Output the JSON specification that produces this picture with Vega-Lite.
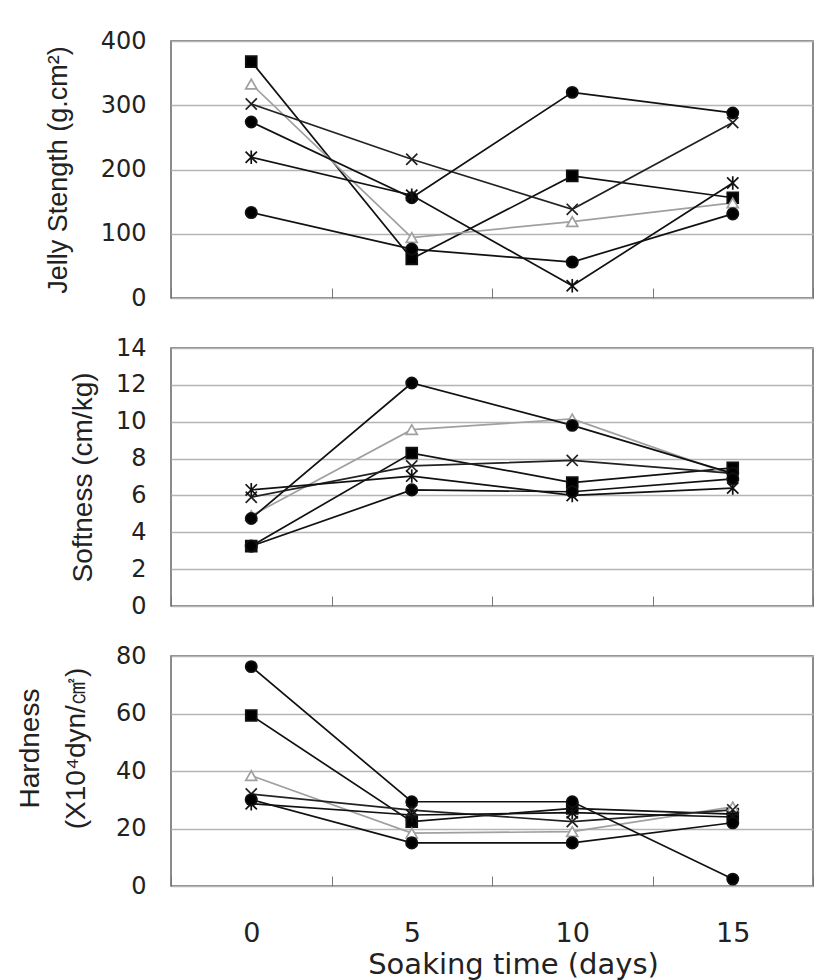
{
  "$schema": "https://vega.github.io/schema/vega-lite/v6.json",
  "background": "white",
  "padding": {"left": 15, "top": 28, "right": 5, "bottom": 5},
  "spacing": 50,
  "bounds": "flush",
  "config": {
    "view": {"stroke": "#666", "strokeWidth": 1.5},
    "axis": {"domain": false, "gridColor": "#b5b5b5", "gridWidth": 1.5, "tickColor": "#777"},
    "font": "Liberation Sans"
  },
  "datasets": {
    "rows": [
      {"panel": "J", "series": "square", "day": 0, "value": 368},
      {"panel": "J", "series": "square", "day": 5, "value": 61},
      {"panel": "J", "series": "square", "day": 10, "value": 190},
      {"panel": "J", "series": "square", "day": 15, "value": 156},
      {"panel": "J", "series": "triangle", "day": 0, "value": 333},
      {"panel": "J", "series": "triangle", "day": 5, "value": 94},
      {"panel": "J", "series": "triangle", "day": 10, "value": 119},
      {"panel": "J", "series": "triangle", "day": 15, "value": 148},
      {"panel": "J", "series": "xcross", "day": 0, "value": 302},
      {"panel": "J", "series": "xcross", "day": 5, "value": 216},
      {"panel": "J", "series": "xcross", "day": 10, "value": 138},
      {"panel": "J", "series": "xcross", "day": 15, "value": 273},
      {"panel": "J", "series": "circle", "day": 0, "value": 274},
      {"panel": "J", "series": "circle", "day": 5, "value": 156},
      {"panel": "J", "series": "circle", "day": 10, "value": 320},
      {"panel": "J", "series": "circle", "day": 15, "value": 288},
      {"panel": "J", "series": "star", "day": 0, "value": 219},
      {"panel": "J", "series": "star", "day": 5, "value": 160},
      {"panel": "J", "series": "star", "day": 10, "value": 19},
      {"panel": "J", "series": "star", "day": 15, "value": 179},
      {"panel": "J", "series": "dot", "day": 0, "value": 133},
      {"panel": "J", "series": "dot", "day": 5, "value": 76},
      {"panel": "J", "series": "dot", "day": 10, "value": 56},
      {"panel": "J", "series": "dot", "day": 15, "value": 131},

      {"panel": "S", "series": "square", "day": 0, "value": 3.25},
      {"panel": "S", "series": "square", "day": 5, "value": 8.3},
      {"panel": "S", "series": "square", "day": 10, "value": 6.7},
      {"panel": "S", "series": "square", "day": 15, "value": 7.5},
      {"panel": "S", "series": "triangle", "day": 0, "value": 4.9},
      {"panel": "S", "series": "triangle", "day": 5, "value": 9.57},
      {"panel": "S", "series": "triangle", "day": 10, "value": 10.15},
      {"panel": "S", "series": "triangle", "day": 15, "value": 7.1},
      {"panel": "S", "series": "xcross", "day": 0, "value": 5.9},
      {"panel": "S", "series": "xcross", "day": 5, "value": 7.6},
      {"panel": "S", "series": "xcross", "day": 10, "value": 7.9},
      {"panel": "S", "series": "xcross", "day": 15, "value": 7.2},
      {"panel": "S", "series": "circle", "day": 0, "value": 4.75},
      {"panel": "S", "series": "circle", "day": 5, "value": 12.1},
      {"panel": "S", "series": "circle", "day": 10, "value": 9.8},
      {"panel": "S", "series": "circle", "day": 15, "value": 7.2},
      {"panel": "S", "series": "star", "day": 0, "value": 6.3},
      {"panel": "S", "series": "star", "day": 5, "value": 7.05},
      {"panel": "S", "series": "star", "day": 10, "value": 6.0},
      {"panel": "S", "series": "star", "day": 15, "value": 6.4},
      {"panel": "S", "series": "dot", "day": 0, "value": 3.25},
      {"panel": "S", "series": "dot", "day": 5, "value": 6.3},
      {"panel": "S", "series": "dot", "day": 10, "value": 6.2},
      {"panel": "S", "series": "dot", "day": 15, "value": 6.9},

      {"panel": "H", "series": "square", "day": 0, "value": 59.3},
      {"panel": "H", "series": "square", "day": 5, "value": 22.4},
      {"panel": "H", "series": "square", "day": 10, "value": 27},
      {"panel": "H", "series": "square", "day": 15, "value": 25},
      {"panel": "H", "series": "triangle", "day": 0, "value": 38.4},
      {"panel": "H", "series": "triangle", "day": 5, "value": 18.4},
      {"panel": "H", "series": "triangle", "day": 10, "value": 18.9},
      {"panel": "H", "series": "triangle", "day": 15, "value": 27.5},
      {"panel": "H", "series": "xcross", "day": 0, "value": 32},
      {"panel": "H", "series": "xcross", "day": 5, "value": 26.4},
      {"panel": "H", "series": "xcross", "day": 10, "value": 22.4},
      {"panel": "H", "series": "xcross", "day": 15, "value": 26.5},
      {"panel": "H", "series": "circle", "day": 0, "value": 76.3},
      {"panel": "H", "series": "circle", "day": 5, "value": 29.3},
      {"panel": "H", "series": "circle", "day": 10, "value": 29.3},
      {"panel": "H", "series": "circle", "day": 15, "value": 2.4},
      {"panel": "H", "series": "star", "day": 0, "value": 28.6},
      {"panel": "H", "series": "star", "day": 5, "value": 24.7},
      {"panel": "H", "series": "star", "day": 10, "value": 25.5},
      {"panel": "H", "series": "star", "day": 15, "value": 24},
      {"panel": "H", "series": "dot", "day": 0, "value": 30},
      {"panel": "H", "series": "dot", "day": 5, "value": 15},
      {"panel": "H", "series": "dot", "day": 10, "value": 15},
      {"panel": "H", "series": "dot", "day": 15, "value": 22}
    ]
  },
  "vconcat": [
    {
      "width": 642,
      "height": 257,
      "data": {"name": "rows"},
      "transform": [{"filter": "datum.panel === 'J'"}],
      "encoding": {
        "x": {"field": "day", "type": "ordinal", "scale": {"type": "band", "paddingInner": 0, "paddingOuter": 0},
              "axis": {"labels": false, "title": null, "tickBand": "extent", "tickSize": -10, "grid": false}},
        "y": {"field": "value", "type": "quantitative", "scale": {"domain": [0, 400], "nice": false},
              "axis": {"values": [0, 100, 200, 300, 400], "title": "Jelly Stength (g.cm²)", "titleFont": "Liberation Sans", "titleFontSize": 27, "titleFontWeight": "normal", "titleColor": "#222", "titleX": -113, "titleBaseline": "middle", "titleAngle": -90, "labelFont": "DejaVu Sans", "labelFontSize": 24, "labelColor": "#222", "labelPadding": 25, "ticks": false}}
      },
      "layer": [
        {"mark": {"type": "line", "strokeWidth": 1.7},
         "encoding": {"detail": {"field": "series"},
           "stroke": {"field": "series", "type": "nominal", "legend": null, "scale": {"domain": ["square", "triangle", "xcross", "circle", "star", "dot"], "range": ["#111", "#a0a0a0", "#222", "#111", "#111", "#111"]}}}},
        {"mark": {"type": "point", "filled": false, "strokeWidth": 1.7, "opacity": 1},
         "encoding": {
           "shape": {"field": "series", "type": "nominal", "legend": null, "scale": {"domain": ["square", "triangle", "xcross", "circle", "star", "dot"], "range": ["square", "triangle-up", "M-1,-1L1,1M1,-1L-1,1", "circle", "M-1,-1L1,1M1,-1L-1,1M0,-1.2L0,1.2", "circle"]}},
           "size": {"field": "series", "type": "nominal", "legend": null, "scale": {"domain": ["square", "triangle", "xcross", "circle", "star", "dot"], "range": [120, 130, 100, 120, 100, 60]}},
           "fill": {"field": "series", "type": "nominal", "legend": null, "scale": {"domain": ["square", "triangle", "xcross", "circle", "star", "dot"], "range": ["#000", "#fff", "transparent", "#000", "transparent", "#000"]}},
           "stroke": {"field": "series", "type": "nominal", "legend": null, "scale": {"domain": ["square", "triangle", "xcross", "circle", "star", "dot"], "range": ["#000", "#999", "#222", "#000", "#111", "#000"]}}
         }}
      ]
    },
    {
      "width": 642,
      "height": 258,
      "data": {"name": "rows"},
      "transform": [{"filter": "datum.panel === 'S'"}],
      "encoding": {
        "x": {"field": "day", "type": "ordinal", "scale": {"type": "band", "paddingInner": 0, "paddingOuter": 0},
              "axis": {"labels": false, "title": null, "tickBand": "extent", "tickSize": -10, "grid": false}},
        "y": {"field": "value", "type": "quantitative", "scale": {"domain": [0, 14], "nice": false},
              "axis": {"values": [0, 2, 4, 6, 8, 10, 12, 14], "title": "Softness (cm/kg)", "titleFont": "Liberation Sans", "titleFontSize": 28, "titleFontWeight": "normal", "titleColor": "#222", "titleX": -88, "titleBaseline": "middle", "titleAngle": -90, "labelFont": "DejaVu Sans", "labelFontSize": 24, "labelColor": "#222", "labelPadding": 25, "ticks": false}}
      },
      "layer": [
        {"mark": {"type": "line", "strokeWidth": 1.7},
         "encoding": {"detail": {"field": "series"},
           "stroke": {"field": "series", "type": "nominal", "legend": null, "scale": {"domain": ["square", "triangle", "xcross", "circle", "star", "dot"], "range": ["#111", "#a0a0a0", "#222", "#111", "#111", "#111"]}}}},
        {"mark": {"type": "point", "filled": false, "strokeWidth": 1.7, "opacity": 1},
         "encoding": {
           "shape": {"field": "series", "type": "nominal", "legend": null, "scale": {"domain": ["square", "triangle", "xcross", "circle", "star", "dot"], "range": ["square", "triangle-up", "M-1,-1L1,1M1,-1L-1,1", "circle", "M-1,-1L1,1M1,-1L-1,1M0,-1.2L0,1.2", "circle"]}},
           "size": {"field": "series", "type": "nominal", "legend": null, "scale": {"domain": ["square", "triangle", "xcross", "circle", "star", "dot"], "range": [120, 130, 100, 90, 100, 90]}},
           "fill": {"field": "series", "type": "nominal", "legend": null, "scale": {"domain": ["square", "triangle", "xcross", "circle", "star", "dot"], "range": ["#000", "#fff", "transparent", "#000", "transparent", "#000"]}},
           "stroke": {"field": "series", "type": "nominal", "legend": null, "scale": {"domain": ["square", "triangle", "xcross", "circle", "star", "dot"], "range": ["#000", "#999", "#222", "#000", "#111", "#000"]}}
         }}
      ]
    },
    {
      "width": 642,
      "height": 230,
      "data": {"name": "rows"},
      "transform": [{"filter": "datum.panel === 'H'"}],
      "encoding": {
        "x": {"field": "day", "type": "ordinal", "scale": {"type": "band", "paddingInner": 0, "paddingOuter": 0},
              "axis": {"title": "Soaking time (days)", "titleFont": "DejaVu Sans", "titleFontSize": 29, "titleFontWeight": "normal", "titleColor": "#222", "titleX": 342, "titleY": 78, "titleBaseline": "middle", "labelFont": "DejaVu Sans", "labelFontSize": 27, "labelColor": "#222", "labelAngle": 0, "labelPadding": 44, "tickBand": "extent", "tickSize": -10, "grid": false}},
        "y": {"field": "value", "type": "quantitative", "scale": {"domain": [0, 80], "nice": false},
              "axis": {"values": [0, 20, 40, 60, 80], "title": ["Hardness", "(X10⁴dyn/㎠)"], "titleFont": "Liberation Sans", "titleFontSize": 28, "titleFontWeight": "normal", "titleColor": "#222", "titleLineHeight": 46, "titleX": -141, "titleY": 92, "titleBaseline": "middle", "titleAngle": -90, "labelFont": "DejaVu Sans", "labelFontSize": 24, "labelColor": "#222", "labelPadding": 25, "ticks": false}}
      },
      "layer": [
        {"mark": {"type": "line", "strokeWidth": 1.7},
         "encoding": {"detail": {"field": "series"},
           "stroke": {"field": "series", "type": "nominal", "legend": null, "scale": {"domain": ["square", "triangle", "xcross", "circle", "star", "dot"], "range": ["#111", "#a0a0a0", "#222", "#111", "#111", "#111"]}}}},
        {"mark": {"type": "point", "filled": false, "strokeWidth": 1.7, "opacity": 1},
         "encoding": {
           "shape": {"field": "series", "type": "nominal", "legend": null, "scale": {"domain": ["square", "triangle", "xcross", "circle", "star", "dot"], "range": ["square", "triangle-up", "M-1,-1L1,1M1,-1L-1,1", "circle", "M-1,-1L1,1M1,-1L-1,1M0,-1.2L0,1.2", "circle"]}},
           "size": {"field": "series", "type": "nominal", "legend": null, "scale": {"domain": ["square", "triangle", "xcross", "circle", "star", "dot"], "range": [120, 130, 100, 120, 100, 90]}},
           "fill": {"field": "series", "type": "nominal", "legend": null, "scale": {"domain": ["square", "triangle", "xcross", "circle", "star", "dot"], "range": ["#000", "#fff", "transparent", "#000", "transparent", "#000"]}},
           "stroke": {"field": "series", "type": "nominal", "legend": null, "scale": {"domain": ["square", "triangle", "xcross", "circle", "star", "dot"], "range": ["#000", "#999", "#222", "#000", "#111", "#000"]}}
         }}
      ]
    }
  ]
}
